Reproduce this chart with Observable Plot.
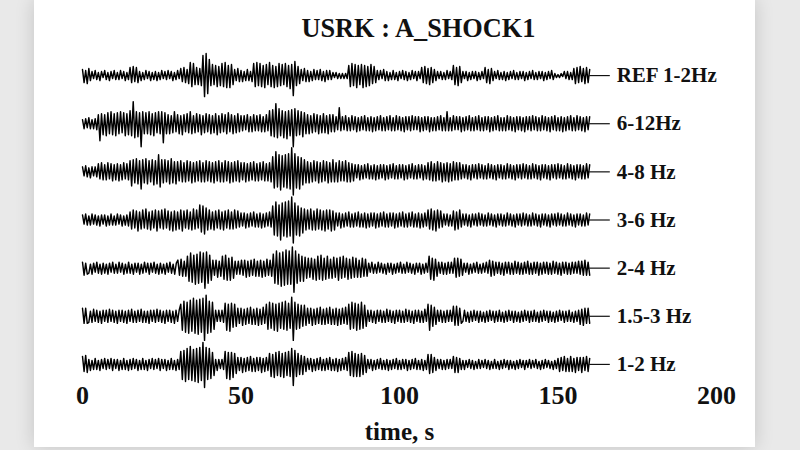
<!DOCTYPE html>
<html><head><meta charset="utf-8">
<script src="https://cdn.jsdelivr.net/npm/d3@7"></script>
<script src="https://cdn.jsdelivr.net/npm/@observablehq/plot@0.6"></script>
<style>
html,body{margin:0;padding:0;}
body{width:800px;height:450px;overflow:hidden;background:#e9e9e9;position:relative;font-family:"Liberation Serif",serif;}
#card{position:absolute;left:34px;top:0;width:721px;height:447px;background:#fff;box-shadow:0 0 18px rgba(0,0,0,0.16);}
#title{position:absolute;left:0;top:0;width:721px;height:44px;line-height:56px;text-align:center;padding-left:48px;box-sizing:border-box;font-weight:bold;font-size:28px;color:#111;white-space:nowrap;}
#title span{display:inline-block;transform:scaleX(0.94);}
#chart{position:absolute;left:0;top:44px;}
</style></head>
<body><div id="card"><div id="title"><span id="tt"></span></div><div id="chart"></div></div>
<script>
const title = "USRK : A_SHOCK1";
const xLabel = "time, s";
const xTicks = [0, 50, 100, 150, 200];
const duration = 160;
const traceNames = ["REF 1-2Hz", "6-12Hz", "4-8 Hz", "3-6 Hz", "2-4 Hz", "1.5-3 Hz", "1-2 Hz"];

const ref12 = [6,-7,5,-8,7,-5,
4,-3,5,-4,3,-5,4,-2,5,-4,3,-5,4,-3,5,-4,3,-4,5,-3,4,-5,3,-4,
8,-7,9,-6,8,-7,
4,-5,3,-4,5,-3,4,-5,3,-4,4,-5,3,-4,5,-3,4,-4,5,-3,4,-5,3,-4,5,-3,
7,-6,8,-7,6,-8,
13,-11,12,-9,
8,-9,7,-10,
20,-21,22,-18,16,
-10,11,-9,10,-11,9,-10,
12,-11,13,-12,10,-12,11,-9,
6,-5,7,-6,5,-6,4,-5,6,-5,4,-6,
12,-11,13,-10,12,-11,
10,-12,11,-9,13,-11,10,-12,9,-11,12,-10,11,-9,12,-11,10,-13,11,-20,14,-10,9,-8,
6,-5,7,-6,5,-6,4,-5,6,-4,5,-4,6,-5,4,-6,5,-4,5,-4,
3,-2,3,-3,2,-3,2,-3,2,-3,
10,-11,12,-10,11,-12,10,-9,11,-12,10,-11,9,-10,11,-8,9,-7,
5,-4,5,-3,6,-5,4,-5,3,-4,5,-4,3,-5,4,-3,5,-4,4,-5,3,-4,5,-3,4,-5,4,-3,
8,-7,9,-8,7,-9,8,-7,6,-5,
4,-3,4,-4,3,-4,5,-3,4,-4,
10,-9,8,-10,9,-7,
4,-3,4,-5,3,-4,4,-3,4,-5,3,-4,4,-3,
8,-7,6,-8,7,-5,
4,-3,5,-4,3,-4,4,-5,3,-4,4,-3,5,-4,3,-4,4,-3,4,-5,3,-4,4,-3,5,-4,3,-4,4,-3,4,-5,3,-4,4,-3,5,-4,
2,-2,1,-2,2,-1,
4,-3,4,-4,3,-4,
7,-8,8,-7,9,-6,7,-8,8,-7,6];

const hz6_12 = [4,-5,5,-4,6,-5,4,-5,5,-6,
9,-17,10,-11,9,-12,
11,-10,12,-11,10,-12,11,-10,12,-9,11,-12,10,-11,
13,-12,22,-14,12,-13,11,-23,12,-10,
11,-10,12,-11,10,-12,11,-9,12,-10,
12,-19,11,-10,
9,-10,8,-9,12,-8,9,-10,8,-11,9,-8,10,-9,12,-10,8,-9,10,-8,9,-11,8,-9,10,-8,9,-10,8,-9,10,-11,8,-9,10,-8,9,-10,11,-8,9,-10,8,-9,10,-8,
8,-7,8,-6,9,-8,7,-8,9,-7,8,-7,9,-8,7,-8,9,-7,
13,-12,14,-13,20,-14,15,-12,13,-14,12,-15,13,-12,14,-23,15,-12,13,-11,12,-13,11,-10,
9,-10,8,-9,10,-8,9,-10,8,-9,10,-9,8,-10,9,-8,9,-8,
7,-6,16,-7,
7,-6,8,-7,6,-7,8,-6,7,-8,6,-7,7,-6,8,-7,6,-7,7,-8,6,-7,7,-6,8,-7,6,-7,7,-6,8,-7,6,-7,8,-6,7,-7,6,-8,7,-6,7,-7,8,-6,7,-6,7,-8,6,-7,
7,-6,7,-8,6,-7,6,-7,7,-6,8,-7,6,-7,12,-7,6,-7,8,-6,7,-6,7,-8,6,-7,7,-6,8,-7,6,-7,7,-6,8,-7,6,-7,7,-6,7,-8,6,-7,7,-6,8,-7,6,-7,6,-7,8,-6,7,-7,6,-8,7,-6,7,-7,6,-8,7,-6,7,-7,8,-6,7,-7,6,-7,8,-6,7,-7,6,-8,7,-6,8,-7,6,-7,7,-8,6,-7,7,-6,8,-7,6,-7,8,-6,7,-7,6,-8,7,-6,7];

const hz4_8 = [5,-4,6,-5,4,-6,5,-4,5,-5,
8,-7,9,-8,7,-8,9,-7,8,-9,7,-8,8,-9,7,-8,9,-7,8,-8,
11,-14,12,-11,13,-12,11,-17,12,-11,13,-12,11,-10,12,-13,11,-12,17,-15,12,-11,12,-10,11,-12,13,-11,10,-12,
10,-9,11,-10,9,-10,11,-9,10,-11,9,-10,10,-9,11,-10,9,-10,11,-9,10,-10,9,-11,10,-9,11,-10,9,-10,11,-9,10,-11,9,-10,10,-9,11,-10,
9,-8,9,-10,8,-9,9,-8,10,-9,8,-9,9,-8,10,-9,8,-9,9,-10,
15,-16,20,-15,17,-18,16,-15,17,-16,18,-17,24,-23,18,-16,15,-17,14,-13,12,-11,
10,-11,9,-10,11,-9,10,-11,9,-10,11,-9,10,-11,9,-10,12,-10,9,-10,11,-9,10,-9,11,-10,9,-10,8,-9,
7,-6,7,-8,6,-7,7,-6,8,-7,6,-7,7,-8,6,-7,7,-6,7,-8,6,-7,7,-6,8,-7,6,-7,7,-6,7,-8,6,-7,7,-6,8,-7,6,-7,7,-6,7,-8,6,-7,
9,-8,10,-9,8,-9,10,-8,9,-10,8,-9,9,-10,8,-9,10,-8,9,-8,9,-7,
7,-6,7,-7,6,-8,7,-6,7,-7,8,-6,7,-7,6,-7,8,-6,7,-7,6,-8,7,-6,7,-7,6,-7,8,-6,7,-7,6,-8,7,-6,7,-7,8,-6,7,-7,6,-7,8,-6,7,-7,6,-8,7,-6,7,-7,6,-8,7,-6,7,-7,8,-6,7,-7,6,-7,8,-6,7,-7,6,-8,7,-6,7,-7,6,-7,8,-6,7];

const hz3_6 = [5,-4,6,-5,4,-5,6,-4,5,-5,4,-6,5,-4,5,-6,4,-5,6,-5,4,-5,6,-4,5,-6,4,-5,5,-6,
8,-9,10,-8,9,-11,8,-9,10,-8,11,-9,8,-10,9,-8,10,-11,9,-8,10,-9,11,-8,9,-10,8,-11,9,-10,8,-9,10,-11,9,-8,10,-9,8,-10,11,-9,10,-8,
15,-12,14,-14,12,-10,
10,-9,8,-10,9,-8,10,-9,8,-10,9,-8,10,-9,8,-9,10,-8,9,-7,
7,-6,7,-8,6,-7,7,-6,8,-7,6,-7,7,-8,6,-7,7,-6,8,-7,
14,-15,18,-16,15,-20,17,-16,18,-17,19,-16,23,-23,17,-15,14,-16,12,-13,11,-10,
10,-9,11,-10,9,-10,11,-9,10,-10,9,-11,10,-9,10,-11,9,-10,
7,-6,7,-8,6,-7,7,-6,8,-7,6,-7,7,-6,8,-7,6,-7,7,-8,6,-7,7,-6,7,-8,6,-7,7,-6,8,-7,6,-7,7,-6,7,-8,6,-7,7,-6,8,-7,6,-7,7,-6,8,-7,6,-7,7,-8,6,-7,7,-6,
10,-9,11,-10,9,-11,10,-8,9,-7,
6,-5,6,-6,5,-6,
9,-10,8,-9,10,-7,
6,-5,6,-6,5,-7,6,-5,6,-6,7,-5,6,-6,5,-6,7,-5,6,-6,5,-7,6,-5,6,-6,5,-6,7,-5,6,-6,5,-7,6,-5,6,-6,7,-5,6,-6,5,-6,7,-5,6,-6,5,-7,6,-5,6,-6,5,-7,6,-5,6,-6,7,-5,6,-6,5,-6,7,-5,6,-6,5,-7,6,-5,6,-6,5,-6,7,-5,6];

const hz2_4 = [6,-7,5,-6,
-5,4,-6,5,-4,6,-5,4,-6,5,-5,4,-6,5,-4,6,-5,4,-5,6,-4,5,-6,4,-5,6,-5,4,-6,5,-4,5,-6,4,-5,6,-4,5,-6,5,-4,6,-5,4,-6,5,-5,4,-6,5,-4,6,-5,4,-6,5,
8,-7,9,-8,7,-8,
12,-13,15,-14,13,-16,14,-15,16,-14,15,-20,16,-15,13,-12,
8,-7,8,-9,7,-8,
12,-11,13,-12,10,-12,11,-10,
7,-6,7,-6,
8,-7,8,-9,7,-8,8,-7,9,-8,7,-8,8,-9,7,-8,9,-7,8,-8,
14,-15,17,-16,15,-18,16,-17,18,-16,17,-16,21,-24,17,-15,14,-13,12,-13,11,-10,
10,-9,10,-11,9,-12,12,-11,13,-12,10,-11,12,-10,9,-10,11,-9,10,-12,11,-10,12,-9,10,-11,9,-10,11,-9,10,-9,8,-9,10,-8,9,-8,
5,-4,6,-5,4,-5,6,-4,5,-5,4,-6,5,-4,5,-6,4,-5,5,-4,6,-5,4,-5,6,-4,5,-5,4,-6,5,-4,5,-6,4,-5,5,-4,
12,-11,10,-12,9,-8,
6,-5,6,-6,5,-6,6,-5,6,-5,
10,-9,10,-8,9,-7,
5,-4,5,-6,4,-5,5,-4,6,-5,4,-5,5,-4,6,-5,
8,-8,7,-7,
6,-5,6,-6,5,-7,6,-5,6,-6,5,-6,7,-5,6,-6,5,-6,6,-5,7,-6,5,-6,6,-5,6,-7,5,-6,6,-5,6,-6,5,-6,7,-5,6,-6,5,-7,6,-5,6,-6,5,-6,6,-5,6,-5,7,-6,7,-7,8,-7,6,-7];

const hz15_3 = [8,-7,8,-7,
-6,5,-6,7,-5,6,-6,5,-7,6,-5,6,-6,7,-5,6,-6,5,-7,6,-5,6,-6,5,-7,6,-5,7,-6,5,-6,6,-5,7,-6,5,-6,5,-7,6,-5,6,-6,7,-5,6,-6,5,-7,6,-5,6,-6,5,-7,6,-5,6,
12,-14,15,-16,14,-17,16,-15,18,-17,16,-18,17,-16,18,-24,21,-17,15,-16,14,-13,
6,-5,6,-5,6,-6,
13,-14,12,-15,13,-11,12,-10,
8,-7,8,-9,7,-8,8,-7,9,-8,7,-8,8,-9,7,-8,9,-7,
12,-13,14,-12,13,-14,12,-15,13,-12,14,-13,15,-14,13,-12,19,-24,14,-13,12,-12,11,-10,11,-9,
8,-7,8,-9,7,-8,8,-7,9,-8,7,-8,8,-7,9,-8,7,-8,8,-9,7,-8,8,-7,9,-8,
12,-13,14,-12,13,-14,12,-13,14,-12,11,-10,
6,-5,6,-6,5,-7,6,-5,6,-6,5,-6,7,-5,6,-6,5,-7,6,-5,6,-6,5,-6,7,-5,6,-6,5,-7,6,-5,6,-6,5,-6,7,-5,
12,-14,11,-10,9,-8,
6,-5,6,-6,5,-6,6,-5,6,-5,
10,-9,10,-9,8,-7,
-5,6,-5,4,-6,5,-5,6,-4,5,-6,5,-5,4,-6,5,-5,6,-4,5,-6,5,-5,6,-5,4,-6,5,-5,6,-4,5,-6,5,-5,4,-6,5,-5,6,-4,5,-6,5,-5,6,-5,4,-6,5,-5,6,-4,5,-6,5,-5,4,-6,5,-5,6,-4,5,-6,5,-5,6,-5,4,-6,5,-5,6,
-8,7,-9,8,-7,8,-7];

const hz1_2 = [8,-7,9,-8,
5,-6,4,-5,6,-5,4,-6,5,-4,6,-5,5,-4,6,-6,5,-4,5,-6,4,-5,6,-5,4,-6,5,-5,6,-4,5,-6,4,-5,6,-5,4,-6,5,-4,6,-5,5,-4,6,-6,5,-4,5,-6,4,-5,6,-5,4,-6,5,-5,
13,-15,14,-17,16,-15,18,-16,15,-17,16,-18,17,-16,22,-23,17,-15,16,-14,12,-11,
5,-6,5,-4,5,-5,
13,-14,12,-15,12,-13,11,-9,
7,-6,7,-8,6,-7,7,-6,8,-7,6,-7,7,-6,7,-8,6,-7,7,-6,
11,-12,10,-13,12,-11,13,-12,11,-13,12,-11,13,-12,16,-21,14,-12,11,-10,9,-10,8,-7,
6,-5,6,-7,5,-6,6,-5,7,-6,5,-6,6,-5,7,-6,5,-6,6,-7,5,-6,6,-5,7,-6,
12,-11,13,-12,11,-12,10,-12,11,-10,9,-8,
5,-4,5,-6,4,-5,5,-4,6,-5,4,-5,5,-6,4,-5,5,-4,6,-5,4,-5,5,-4,5,-6,4,-5,5,-4,6,-5,4,-5,5,-6,4,-5,
10,-9,10,-8,7,-6,
5,-4,5,-5,4,-5,5,-4,5,-4,
8,-8,7,-8,6,-5,
4,-5,4,-3,5,-4,4,-5,3,-4,5,-4,4,-3,5,-4,4,-5,3,-4,5,-4,3,-5,4,-4,5,-3,4,-5,4,-4,3,-5,4,-4,5,-3,4,-5,4,-3,5,-4,4,-3,5,-4,3,-5,4,-4,5,-3,4,-4,3,-5,4,-4,
6,-7,7,-6,8,-7,6,-7,8,-7,6,-8,7,-6,7,-8,7,-6,8,-7,6];

const traces = [ref12, hz6_12, hz4_8, hz3_6, hz2_4, hz15_3, hz1_2];

document.getElementById("tt").textContent = title;

const spacing = 48;
const rows = [];
traces.forEach((vals, k) => {
  const base = (traces.length - 1 - k) * spacing;
  const n = vals.length;
  vals.forEach((v, i) => rows.push({name: traceNames[k], t: i * duration / (n - 1), y: base + v}));
});
const labels = traceNames.map((name, k) => ({name, y: (traceNames.length - 1 - k) * spacing}));

const plot = Plot.plot({
  width: 721, height: 406,
  marginLeft: 48, marginRight: 39, marginTop: 7, marginBottom: 62,
  style: {fontFamily: '"Liberation Serif", serif', fontSize: "26px", fontWeight: "bold", color: "#111", background: "transparent"},
  x: {domain: [0, 200], ticks: xTicks, tickSize: 0, tickPadding: -3, label: null},
  y: {domain: [-24, 312], axis: null},
  marks: [
    Plot.line(rows, {x: "t", y: "y", z: "name", stroke: "#000", strokeWidth: 1.45}),
    Plot.ruleY(labels, {y: "y", x1: duration, x2: 166.5, stroke: "#111", strokeWidth: 1.2}),
    Plot.text(labels, {x: 168.5, y: "y", text: "name", textAnchor: "start", fontSize: 21, fontWeight: "bold", fill: "#111"}),
    Plot.text([xLabel], {text: d => d, frameAnchor: "bottom", dy: 51, fontSize: 25, fontWeight: "bold", fill: "#111"})
  ]
});
document.getElementById("chart").appendChild(plot);
</script>
</body></html>
